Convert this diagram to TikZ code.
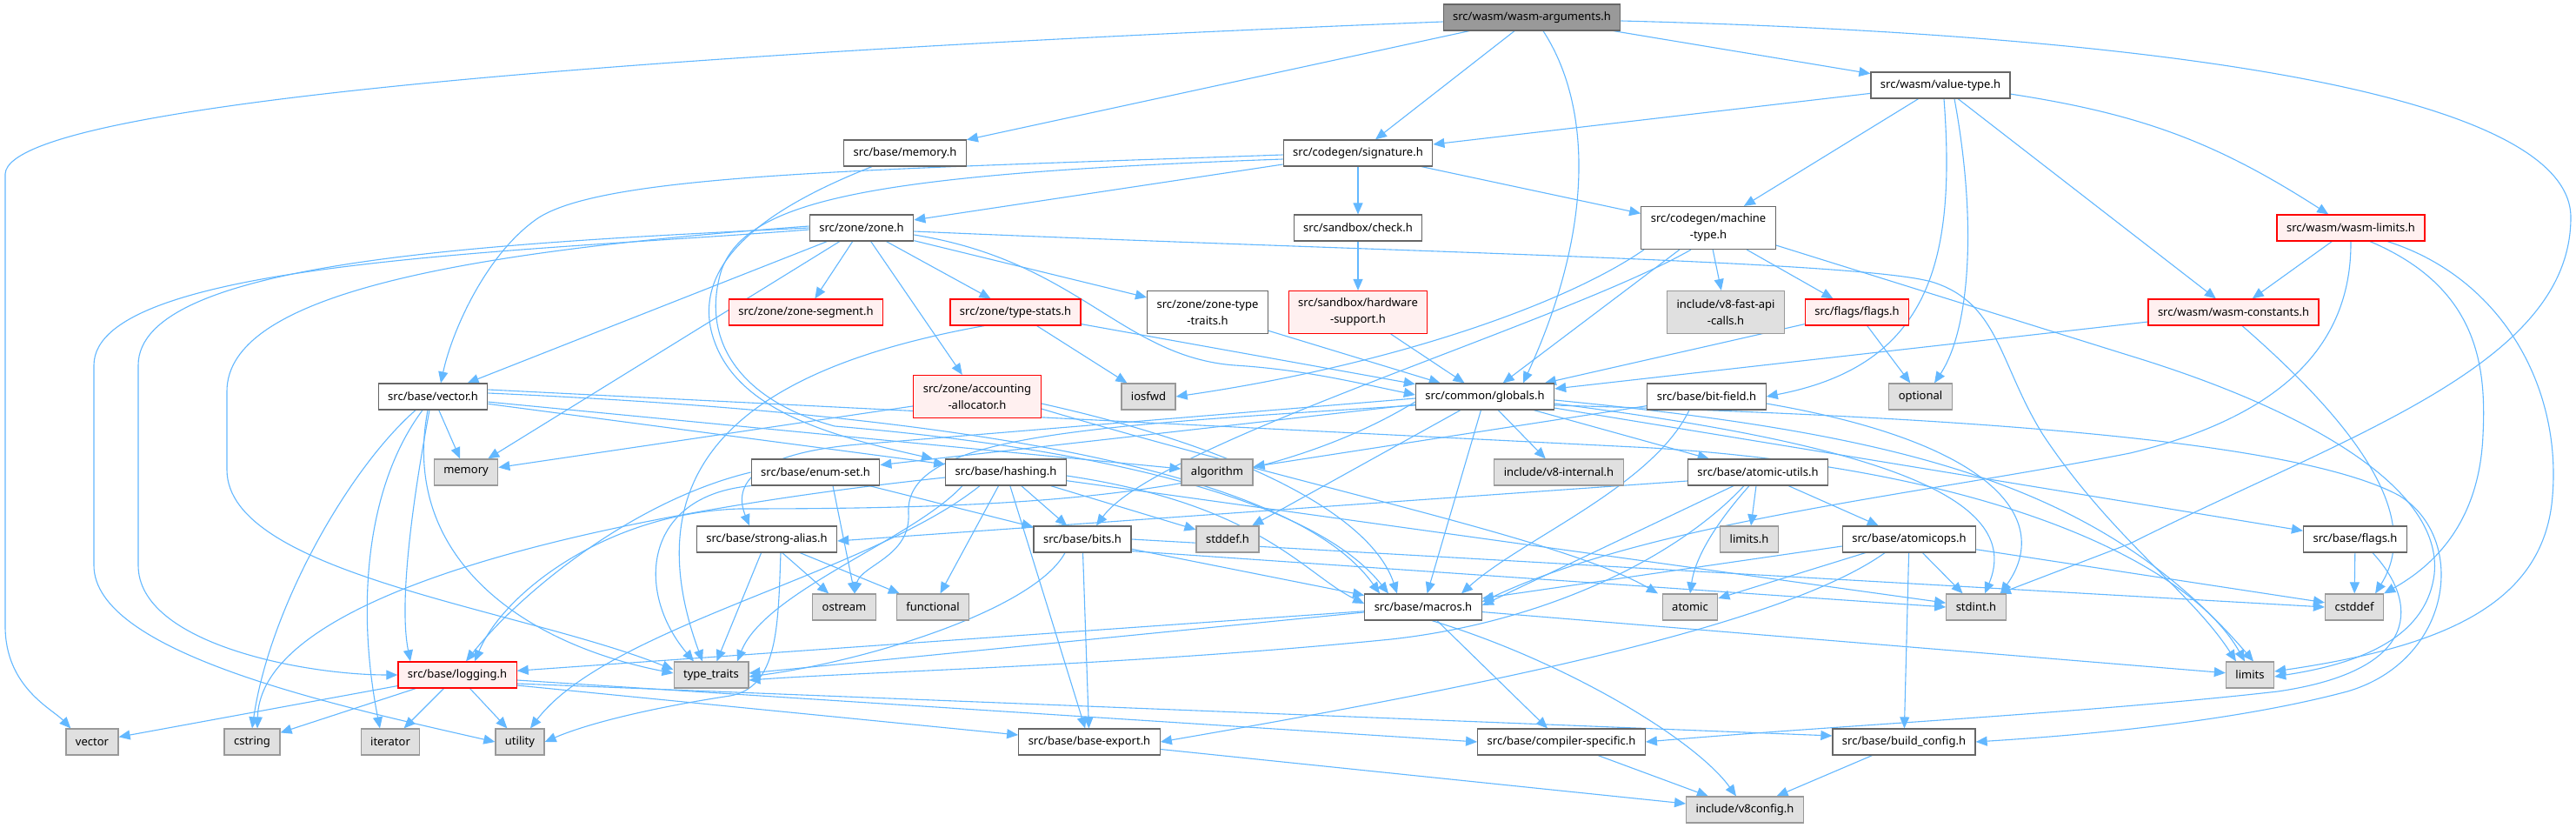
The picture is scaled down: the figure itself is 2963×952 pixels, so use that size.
\documentclass[tikz,border=0pt]{standalone}
\usepackage{fontspec}
\setmainfont{Noto Sans}
\usetikzlibrary{arrows.meta}
\definecolor{edgec}{HTML}{63B8FF}
\definecolor{nborder}{HTML}{666666}
\definecolor{gborder}{HTML}{999999}
\definecolor{gfill}{HTML}{E0E0E0}
\definecolor{rfill}{HTML}{FFF0F0}
\definecolor{rootfill}{HTML}{999999}
\pgfdeclarelayer{bg}
\pgfsetlayers{bg,main}
\begin{document}
\begin{tikzpicture}[x=0.5pt,y=-0.5pt,
  nbase/.style={draw, rectangle, line width=0.6pt, inner xsep=5.5pt, inner ysep=1pt, minimum height=15pt, font=\fontsize{6.5pt}{9.5pt}\selectfont, align=center, text=black},
  wn/.style={nbase, draw=nborder, fill=white},
  gn/.style={nbase, draw=gborder, fill=gfill},
  rn/.style={nbase, draw=red, fill=rfill},
  rootn/.style={nbase, draw=nborder, fill=rootfill},
  twol/.style={minimum height=24.5pt},
  edg/.style={draw=edgec, line width=0.55pt, -{Triangle[length=6.5pt,width=5.5pt]}}
]
\useasboundingbox (0,0) rectangle (2963,952);

% nodes
\node[rootn] (arg) at (1762,20) {src/wasm/wasm-arguments.h};
\node[wn] (memh) at (1041,176) {src/base/memory.h};
\node[wn] (sig) at (1562,176) {src/codegen/signature.h};
\node[wn] (vt) at (2232,98) {src/wasm/value-type.h};
\node[wn] (zone) at (991,262) {src/zone/zone.h};
\node[wn] (chk) at (1562,262) {src/sandbox/check.h};
\node[wn,twol] (mt) at (1965,262) {src/codegen/machine\\-type.h};
\node[rn] (wlim) at (2704,262) {src/wasm/wasm-limits.h};
\node[rn] (zseg) at (927,359) {src/zone/zone-segment.h};
\node[rn] (tstat) at (1168,359) {src/zone/type-stats.h};
\node[wn,twol] (ztt) at (1389,359) {src/zone/zone-type\\-traits.h};
\node[rn,twol] (hw) at (1562,359) {src/sandbox/hardware\\-support.h};
\node[gn,twol] (fast) at (1985,359) {include/v8-fast-api\\-calls.h};
\node[rn] (flags) at (2136,359) {src/flags/flags.h};
\node[rn] (wcon) at (2569,359) {src/wasm/wasm-constants.h};
\node[wn] (vec) at (498,456) {src/base/vector.h};
\node[rn,twol] (acc) at (1124,456) {src/zone/accounting\\-allocator.h};
\node[gn] (iosfwd) at (1321,456) {iosfwd};
\node[wn] (glob) at (1708,456) {src/common/globals.h};
\node[wn] (bitf) at (1963,456) {src/base/bit-field.h};
\node[gn] (optional) at (2209,456) {optional};
\node[gn] (memory) at (536,543) {memory};
\node[wn] (enumset) at (938,543) {src/base/enum-set.h};
\node[wn] (hash) at (1157,543) {src/base/hashing.h};
\node[gn] (algo) at (1400,543) {algorithm};
\node[gn] (v8int) at (1793,543) {include/v8-internal.h};
\node[wn] (atomu) at (2022,543) {src/base/atomic-utils.h};
\node[wn] (salias) at (882,620) {src/base/strong-alias.h};
\node[wn] (bits) at (1245,620) {src/base/bits.h};
\node[gn] (stddef) at (1412,620) {stddef.h};
\node[gn] (limitsh) at (2012,620) {limits.h};
\node[wn] (atomops) at (2196,620) {src/base/atomicops.h};
\node[wn] (bflags) at (2709,620) {src/base/flags.h};
\node[gn] (ostream) at (971,698) {ostream};
\node[gn] (functional) at (1073,698) {functional};
\node[wn] (macros) at (1637,698) {src/base/macros.h};
\node[gn] (atomic) at (1944,698) {atomic};
\node[gn] (stdint) at (2273,698) {stdint.h};
\node[gn] (cstddef) at (2708,698) {cstddef};
\node[rn] (logging) at (526,776) {src/base/logging.h};
\node[gn] (ttraits) at (818,776) {type\_traits};
\node[gn] (limits) at (2588,776) {limits};
\node[gn] (vector) at (106,853) {vector};
\node[gn] (cstring) at (290,853) {cstring};
\node[gn] (iterator) at (449,853) {iterator};
\node[gn] (utility) at (598,853) {utility};
\node[wn] (bexport) at (1253,853) {src/base/base-export.h};
\node[wn] (compspec) at (1796,853) {src/base/compiler-specific.h};
\node[wn] (bconfig) at (2190,853) {src/base/build\_config.h};
\node[gn] (v8config) at (2007,931) {include/v8config.h};

\begin{pgfonlayer}{bg}
\fill[white] (0,0) rectangle (2963,952);
% root
\draw[edg] ([yshift=-2.5pt]arg.west) .. controls (900,55) and (10,110) .. (6,200) -- (6,720) .. controls (6,790) and (60,815) .. ([xshift=3pt]vector.north west);
\draw[edg] (arg) -- (memh);
\draw[edg] (arg) -- (sig);
\draw[edg] ([xshift=6.5pt]arg.south) .. controls (1830,120) and (1835,260) .. ([xshift=22pt]glob.north);
\draw[edg] (arg) -- (vt);
\draw[edg] ([yshift=-2pt]arg.east) .. controls (2500,40) and (2957,110) .. (2957,250) .. controls (2957,420) and (2700,500) .. (2450,625) -- ([xshift=-4pt]stdint.north east);
% memory.h
\draw[edg] ([xshift=-19pt]memh.south) .. controls (880,240) and (800,300) .. (818,380) .. controls (840,470) and (950,500) .. ([xshift=-42pt]hash.north);
% signature
\draw[edg] ([yshift=-1pt]sig.west) .. controls (1000,195) and (700,200) .. (620,250) .. controls (560,290) and (520,380) .. ([xshift=4.5pt]vec.north);
\draw[edg] ([yshift=-3.5pt]sig.west) .. controls (1000,200) and (860,230) .. (830,310) .. controls (805,390) and (850,460) .. (960,490) .. controls (1200,510) and (1500,560) .. ([xshift=-20pt]macros.north);
\draw[edg] (sig) -- (zone);
\draw[edg] (sig) -- (chk);
\draw[edg] (sig) -- (mt);
% value-type
\draw[edg] (vt) -- (sig);
\draw[edg] (vt) -- (mt);
\draw[edg] ([xshift=2pt]vt.south) .. controls (2250,300) and (2220,420) .. (bitf.east);
\draw[edg] ([xshift=8pt]vt.south) .. controls (2275,260) and (2265,380) .. ([xshift=8pt]optional.north);
\draw[edg] (vt) -- (wcon);
\draw[edg] (vt) to[bend left=12] (wlim);
% zone
\draw[edg] ([yshift=-1pt]zone.west) .. controls (600,290) and (108,300) .. (108,420) -- (108,650) .. controls (108,750) and (380,810) .. (utility.west);
\draw[edg] (zone.west) .. controls (560,280) and (159,300) .. (159,420) -- (159,650) .. controls (159,740) and (350,776) .. (logging.west);
\draw[edg] ([yshift=1pt]zone.west) .. controls (520,290) and (261,340) .. (261,450) -- (261,540) .. controls (261,660) and (600,700) .. ([yshift=3pt]ttraits.west);
\draw[edg] (zone) -- (vec);
\draw[edg] (zone) -- (memory);
\draw[edg] (zone) -- (zseg);
\draw[edg] (zone) -- (tstat);
\draw[edg] (zone) -- (acc);
\draw[edg] (zone) -- (ztt);
\draw[edg] ([yshift=-4pt]zone.east) .. controls (1240,300) and (1290,410) .. (1420,420) .. controls (1500,425) and (1560,440) .. ([yshift=1pt]glob.west);
\draw[edg] ([yshift=-2pt]zone.east) .. controls (1600,290) and (2150,300) .. (2225,325) .. controls (2300,350) and (2300,420) .. (2350,500) .. controls (2430,620) and (2520,680) .. ([xshift=-8pt]limits.north);
% check / others
\draw[edg] (chk) -- (hw);
\draw[edg] (hw) -- (glob);
\draw[edg] (ztt) -- (glob);
\draw[edg] (tstat) -- (iosfwd);
\draw[edg] (tstat) -- (glob);
\draw[edg] ([xshift=-18pt]tstat.south) .. controls (880,420) and (720,520) .. ([xshift=-5pt]ttraits.north);
% machine-type
\draw[edg] ([xshift=-37pt]mt.south) .. controls (1800,350) and (1600,420) .. (iosfwd.east);
\draw[edg] (mt) -- (glob);
\draw[edg] ([xshift=-10pt]mt.south) .. controls (1800,370) and (1330,510) .. ([xshift=8pt]bits.north);
\draw[edg] (mt) -- (fast);
\draw[edg] (mt) -- (flags);
\draw[edg] ([yshift=-10pt]mt.east) -- (2450,409) .. controls (2650,470) and (2810,560) .. (2800,660) .. controls (2790,740) and (2700,765) .. ([yshift=-1pt]limits.east);
% wasm-limits
\draw[edg] (wlim) -- (wcon);
\draw[edg] (wlim.south) .. controls (2705,400) and (2620,480) .. (2450,521) .. controls (2200,570) and (1900,600) .. ([yshift=3pt]macros.east);
\draw[edg] ([xshift=11pt]wlim.south) .. controls (2850,330) and (2860,420) .. (2856,500) .. controls (2852,600) and (2800,650) .. (cstddef.north east);
\draw[edg] ([xshift=21pt]wlim.south) .. controls (2880,320) and (2950,450) .. (2935,580) .. controls (2920,700) and (2800,745) .. ([yshift=2pt]limits.east);
% wasm-constants
\draw[edg] (wcon) -- (glob);
\draw[edg] ([xshift=5pt]wcon.south) .. controls (2700,480) and (2790,590) .. ([xshift=-5pt]cstddef.north east);
% flags
\draw[edg] (flags) -- (glob);
\draw[edg] (flags) -- (optional);
% accounting allocator
\draw[edg] (acc) -- (memory);
\draw[edg] ([yshift=-4pt]acc.east) .. controls (1450,520) and (1580,600) .. ([xshift=-15pt]macros.north);
\draw[edg] ([yshift=-7pt]acc.east) .. controls (1500,560) and (1800,620) .. ([xshift=-18.5pt]atomic.north);
% vector.h
\draw[edg] (vec) -- (memory);
\draw[edg] ([xshift=-10pt]vec.south) .. controls (400,540) and (310,700) .. (cstring.north);
\draw[edg] ([xshift=-6pt]vec.south) .. controls (420,560) and (410,700) .. ([xshift=-6pt]iterator.north);
\draw[edg] ([xshift=-2pt]vec.south) .. controls (470,600) and (460,700) .. ([xshift=-27pt]logging.north);
\draw[edg] ([xshift=-3pt]vec.south) .. controls (460,640) and (600,740) .. ([yshift=1pt]ttraits.west);
\draw[edg] (vec) -- (hash);
\draw[edg] (vec) -- (algo);
\draw[edg] ([yshift=2pt]vec.east) .. controls (1200,480) and (1500,560) .. ([xshift=-25pt]macros.north);
\draw[edg] ([yshift=4pt]vec.east) -- (1900,515) .. controls (2300,540) and (2520,650) .. ([xshift=-3pt]limits.north);
% globals
\draw[edg] (glob) -- (enumset);
\draw[edg] ([yshift=-3pt]glob.west) .. controls (1450,570) and (1200,585) .. (850,585) .. controls (700,590) and (580,680) .. ([xshift=10pt]logging.north);
\draw[edg] ([yshift=-5pt]glob.west) .. controls (1250,490) and (1040,500) .. (1045,590) .. controls (1048,640) and (990,650) .. ([xshift=6pt]ostream.north);
\draw[edg] ([yshift=-1pt]glob.west) -- (1000,510) .. controls (880,518) and (840,550) .. ([xshift=-10pt]salias.north);
\draw[edg] (glob) -- (stddef);
\draw[edg] ([yshift=-4pt]glob.east) .. controls (2150,510) and (2330,570) .. ([xshift=5pt]stdint.north);
\draw[edg] ([yshift=-2pt]glob.east) .. controls (2200,500) and (2420,560) .. ([xshift=2pt]limits.north);
\draw[edg] (glob) -- (v8int);
\draw[edg] (glob) -- (atomu);
\draw[edg] (glob) -- (bflags);
\draw[edg] (glob) -- (macros);
\draw[edg] ([yshift=-5pt]glob.east) .. controls (2300,480) and (2650,510) .. (2760,570) .. controls (2840,620) and (2820,760) .. (2700,795) .. controls (2550,835) and (2350,848) .. (bconfig.east);
% bit-field
\draw[edg] (bitf) -- (algo);
\draw[edg] ([xshift=-10pt]bitf.south) .. controls (1900,560) and (1750,620) .. ([xshift=22pt]macros.north);
\draw[edg] ([yshift=-4pt]bitf.east) .. controls (2300,510) and (2360,600) .. ([xshift=14pt]stdint.north);
% enum-set
\draw[edg] (enumset) -- (bits);
\draw[edg] (enumset.west) .. controls (730,575) and (600,680) .. ([xshift=5pt]logging.north);
\draw[edg] ([xshift=10pt]enumset.south) -- ([xshift=6pt]ostream.north);
\draw[edg] (enumset.south west) .. controls (740,570) and (730,680) .. ([xshift=-10pt]ttraits.north);
% hashing
\draw[edg] (hash) -- (bits);
\draw[edg] (hash) -- (stddef);
\draw[edg] (hash) -- (functional);
\draw[edg] ([yshift=-3pt]hash.west) .. controls (700,590) and (300,680) .. ([xshift=3pt]cstring.north);
\draw[edg] ([xshift=-25pt]hash.south) .. controls (1050,620) and (880,680) .. ([xshift=15pt]ttraits.north);
\draw[edg] ([xshift=-15pt]hash.south) .. controls (1000,660) and (700,720) .. ([xshift=6pt]utility.north);
\draw[edg] (hash) -- (bexport);
\draw[edg] ([yshift=-2pt]hash.east) .. controls (1450,580) and (1500,660) .. ([yshift=2pt]macros.west);
\draw[edg] (hash) -- (stdint);
% strong-alias
\draw[edg] (salias) -- (ostream);
\draw[edg] (salias) -- (functional);
\draw[edg] (salias) -- (ttraits);
\draw[edg] ([xshift=8pt]salias.south) .. controls (895,720) and (895,790) .. (840,800) .. controls (760,812) and (680,830) .. (utility.east);
% bits
\draw[edg] (bits) -- (macros);
\draw[edg] ([xshift=-10pt]bits.south) .. controls (1190,700) and (1000,760) .. ([yshift=-1pt]ttraits.east);
\draw[edg] (bits) -- (bexport);
\draw[edg] ([yshift=1pt]bits.south east) -- (stdint.west);
\draw[edg] (bits.east) -- (cstddef.west);
% atomic-utils
\draw[edg] ([yshift=-5pt]atomu.west) -- ([yshift=-1pt]salias.east);
\draw[edg] ([xshift=-14pt]atomu.south) -- ([yshift=1pt]macros.east);
\draw[edg] ([xshift=-8pt]atomu.south) .. controls (1930,640) and (1780,715) .. (1600,735) .. controls (1300,765) and (1000,772) .. ([yshift=-3pt]ttraits.east);
\draw[edg] ([xshift=-5pt]atomu.south) .. controls (1975,600) and (1950,640) .. (atomic.north);
\draw[edg] (atomu) -- (limitsh);
\draw[edg] (atomu) -- (atomops);
% atomicops
\draw[edg] ([yshift=-4pt]atomops.west) -- ([yshift=5pt]macros.east);
\draw[edg] (atomops) -- (atomic);
\draw[edg] (atomops) -- (stdint);
\draw[edg] (atomops) -- (cstddef);
\draw[edg] ([xshift=-14pt]atomops.south) .. controls (2050,720) and (1700,790) .. (bexport.east);
\draw[edg] (atomops) -- (bconfig);
% base/flags
\draw[edg] (bflags) -- (cstddef);
\draw[edg] ([xshift=10pt]bflags.south) .. controls (2780,690) and (2790,770) .. (2620,795) .. controls (2400,820) and (2100,835) .. (compspec.east);
% macros
\draw[edg] (macros) -- (logging);
\draw[edg] ([yshift=-3pt]macros.west) -- ([yshift=1pt]ttraits.east);
\draw[edg] (macros) -- (compspec);
\draw[edg] ([xshift=5pt]macros.south) .. controls (1800,760) and (1950,850) .. ([xshift=-5pt]v8config.north);
\draw[edg] (macros) -- (limits);
% logging
\draw[edg] (logging) -- (vector);
\draw[edg] (logging) -- (cstring);
\draw[edg] (logging) -- (iterator);
\draw[edg] (logging) -- (utility);
\draw[edg] ([yshift=-6pt]logging.east) -- ([yshift=4pt]bexport.west);
\draw[edg] ([yshift=-3pt]logging.east) -- (compspec.west);
\draw[edg] ([yshift=-5pt]logging.east) -- ([yshift=3.5pt]bconfig.west);
% leaves
\draw[edg] (bexport) -- (v8config);
\draw[edg] (compspec) -- (v8config);
\draw[edg] (bconfig) -- (v8config);
\end{pgfonlayer}
\end{tikzpicture}
\end{document}
